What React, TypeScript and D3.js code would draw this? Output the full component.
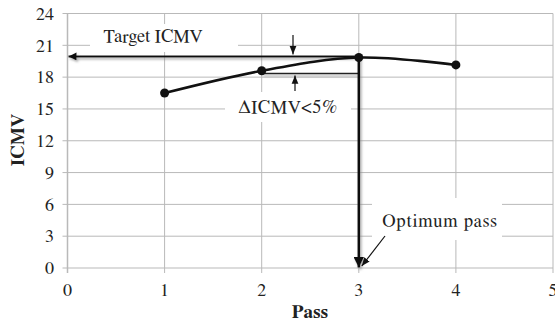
import React from 'react';
import * as d3 from 'd3';

const passes = [1, 2, 3, 4];
const icmvValues = [16.5, 18.6, 19.85, 19.15];
const xTicks = [0, 1, 2, 3, 4, 5];
const yTicks = [0, 3, 6, 9, 12, 15, 18, 21, 24];
const targetIcmv = 19.95;
const lowerIcmv = 18.35;
const optimumPass = 3;
const labels = { target: 'Target ICMV', delta: 'ΔICMV<5%', optimum: 'Optimum pass', xTitle: 'Pass', yTitle: 'ICMV' };

const width = 555;
const height = 325;
const serif = "FreeSerif, 'Liberation Serif', 'Times New Roman', serif";

const App: React.FC = () => {
  const x = d3.scaleLinear().domain([0, 5]).range([67.5, 553]);
  const y = d3.scaleLinear().domain([0, 24]).range([268, 13.5]);

  const pts = passes.map((p, i) => [x(p), y(icmvValues[i])] as [number, number]);
  const line = d3.line().curve(d3.curveCardinal.tension(0));

  const gridColor = '#b9b9b9';
  const x3 = x(optimumPass);
  const yT = y(targetIcmv);
  const yL = y(lowerIcmv);
  const txt = { fontFamily: serif };

  return (
    <svg width={width} height={height} style={{ position: 'absolute', left: 0, top: 0, fontFamily: serif }}>
      <defs>
        <filter id="sh" x="-10%" y="-10%" width="130%" height="150%">
          <feDropShadow dx="1.5" dy="2" stdDeviation="1.2" floodColor="#888" floodOpacity="0.7" />
        </filter>
        <marker id="ah" viewBox="0 0 10 10" refX="10" refY="5" markerWidth="4" markerHeight="4" orient="auto" markerUnits="strokeWidth">
          <path d="M0,0 L10,5 L0,10 z" fill="#111" />
        </marker>
        <marker id="ahs" viewBox="0 0 10 10" refX="10" refY="5" markerWidth="7" markerHeight="7" orient="auto" markerUnits="strokeWidth">
          <path d="M0,1 L10,5 L0,9 z" fill="#111" />
        </marker>
      </defs>

      {/* grid */}
      {yTicks.map(t => (
        <line key={'gy' + t} x1={x(0) - 5} x2={x(5)} y1={y(t)} y2={y(t)} stroke={gridColor} strokeWidth={1} />
      ))}
      {xTicks.map(t => (
        <line key={'gx' + t} x1={x(t)} x2={x(t)} y1={y(24)} y2={y(0) + 5} stroke={gridColor} strokeWidth={t === 0 ? 1.5 : 1} />
      ))}

      {/* text boxes hiding grid */}
      <rect x={90} y={24} width={148} height={28} fill="#fff" />
      <rect x={225} y={92} width={126} height={30} fill="#fff" />
      <rect x={372} y={198} width={130} height={42} fill="#fff" />

      {/* tick labels */}
      {yTicks.map(t => (
        <text key={'ty' + t} style={txt} x={54} y={y(t)} dy="0.35em" textAnchor="end" fontSize={18} fill="#222">{t}</text>
      ))}
      {xTicks.map(t => (
        <text key={'tx' + t} style={txt} x={x(t)} y={296} textAnchor="middle" fontSize={18} fill="#222">{t}</text>
      ))}

      <text style={txt} x={310} y={318} textAnchor="middle" fontSize={19} fontWeight="bold" fill="#222">{labels.xTitle}</text>
      <text style={txt} transform="translate(24,140) rotate(-90)" textAnchor="middle" fontSize={19} fontWeight="bold" fill="#222">{labels.yTitle}</text>

      {/* annotations */}
      <g filter="url(#sh)">
        <line x1={x(2)} x2={x3} y1={yL} y2={yL} stroke="#222" strokeWidth={1.5} />
        <line x1={x3} x2={x(0) + 1} y1={yT} y2={yT} stroke="#111" strokeWidth={2} markerEnd="url(#ah)" />
        <line x1={x3} x2={x3} y1={yT} y2={y(0) - 0.5} stroke="#111" strokeWidth={2.6} markerEnd="url(#ah)" />
      </g>
      <line x1={293} x2={293} y1={35} y2={yT - 2} stroke="#111" strokeWidth={1.2} markerEnd="url(#ahs)" />
      <line x1={295} x2={295} y1={91} y2={yL + 2} stroke="#111" strokeWidth={1.2} markerEnd="url(#ahs)" />
      <line x1={385} x2={x3 + 3} y1={236} y2={y(0) - 2} stroke="#111" strokeWidth={1.2} markerEnd="url(#ahs)" />

      <text style={txt} x={153} y={42} textAnchor="middle" fontSize={18.5} fill="#222">{labels.target}</text>
      <text style={txt} x={288} y={113} textAnchor="middle" fontSize={18.5} letterSpacing={0.6} fill="#222">{labels.delta}</text>
      <text style={txt} x={440} y={227} textAnchor="middle" fontSize={18.5} letterSpacing={0.8} fill="#222">{labels.optimum}</text>

      {/* data */}
      <path d={line(pts) ?? ''} fill="none" stroke="#111" strokeWidth={2.6} />
      {pts.map(([px, py], i) => (
        <circle key={'p' + i} cx={px} cy={py} r={4.5} fill="#111" />
      ))}
    </svg>
  );
};

export default App;
